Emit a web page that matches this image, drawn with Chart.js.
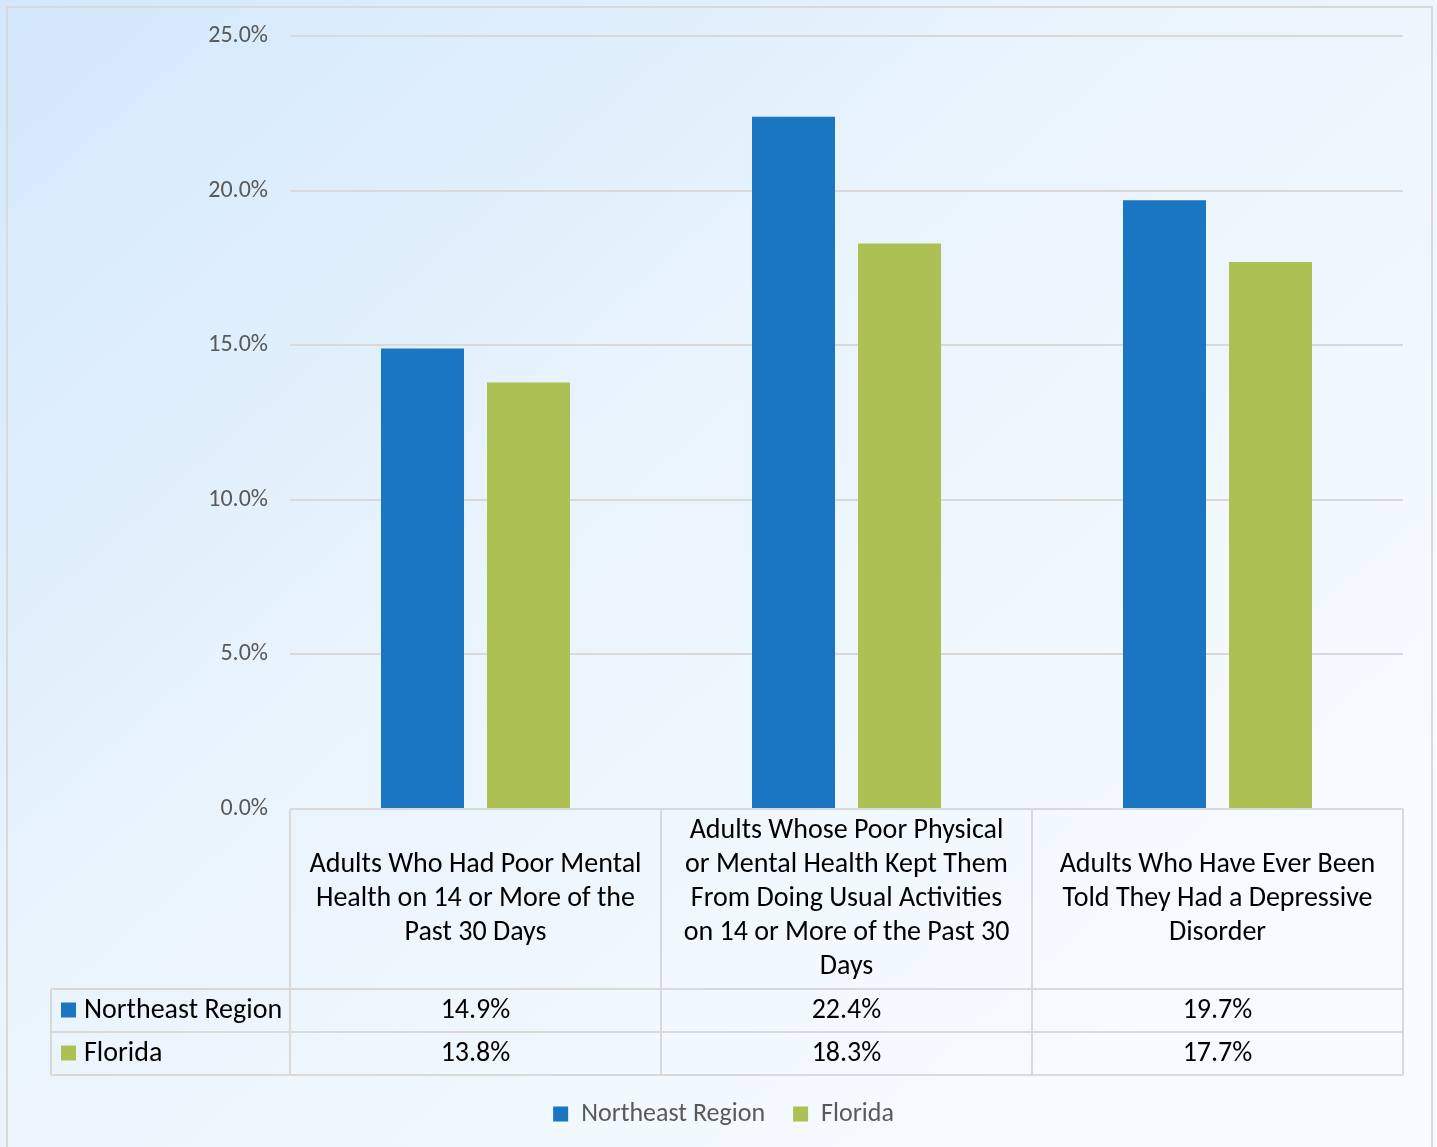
<!DOCTYPE html>
<html>
<head>
<meta charset="utf-8">
<script src="https://cdn.jsdelivr.net/npm/chart.js@4"></script>
<style>
    body { margin: 0; background: #ffffff; }
    #wrap { width: 1437px; height: 1147px; position: relative; }
</style>
</head>
<body>
<div id="wrap"><canvas id="grafico"></canvas></div>
<script>
// Datos del gráfico
const categorias = [
    ['Adults Who Had Poor Mental', 'Health on 14 or More of the', 'Past 30 Days'],
    ['Adults Whose Poor Physical', 'or Mental Health Kept Them', 'From Doing Usual Activities', 'on 14 or More of the Past 30', 'Days'],
    ['Adults Who Have Ever Been', 'Told They Had a Depressive', 'Disorder']
];
const serieNombres = ['Northeast Region', 'Florida'];
const northeast = [14.9, 22.4, 19.7];
const florida = [13.8, 18.3, 17.7];
const yTicks = [0, 5, 10, 15, 20, 25];

const COLORES = ['#1a76c2', '#adc054'];
const FUENTE = 'Carlito, Lato, sans-serif';
const LINEA = '#d9d9d9';

// Fondo con degradado y marco
const fondoPlugin = {
    id: 'fondo',
    beforeDraw(chart) {
        const ctx = chart.ctx;
        const w = chart.width, h = chart.height;
        const grad = ctx.createLinearGradient(0, 0, w * 0.7, h);
        grad.addColorStop(0, '#d3e8fb');
        grad.addColorStop(0.5, '#eaf4fd');
        grad.addColorStop(1, '#f6fbff');
        ctx.save();
        ctx.fillStyle = grad;
        ctx.fillRect(0, 0, w, h);
        ctx.strokeStyle = LINEA;
        ctx.lineWidth = 2;
        ctx.strokeRect(7, 7, 1425, h + 10);
        ctx.restore();
    }
};

// Centrar la leyenda sobre todo el marco, no solo sobre el área
const leyendaPlugin = {
    id: 'leyendaCentro',
    afterLayout(chart) {
        chart.legend.left += 22;
        chart.legend.right += 22;
    }
};

// Tabla de datos debajo del eje X
const tablaPlugin = {
    id: 'tabla',
    afterDraw(chart) {
        const ctx = chart.ctx;
        const xs = chart.scales.x;
        const area = chart.chartArea;
        const top = area.bottom;
        const headerH = 180;
        const rowH = 43;
        const left = 51;
        const series = [northeast, florida];
        const anchoCat = (area.right - area.left) / categorias.length;
        const bordes = [area.left];
        for (let i = 0; i < categorias.length; i++) bordes.push(area.left + anchoCat * (i + 1));
        const bottom = top + headerH + rowH * series.length;

        ctx.save();
        ctx.strokeStyle = LINEA;
        ctx.lineWidth = 2;
        ctx.beginPath();
        // líneas horizontales
        ctx.moveTo(area.left, top); ctx.lineTo(area.right, top);
        for (let r = 0; r <= series.length; r++) {
            const y = top + headerH + rowH * r;
            ctx.moveTo(left, y); ctx.lineTo(area.right, y);
        }
        // líneas verticales
        bordes.forEach(x => { ctx.moveTo(x, top); ctx.lineTo(x, bottom); });
        ctx.moveTo(left, top + headerH); ctx.lineTo(left, bottom);
        ctx.stroke();

        // encabezados de categoría
        ctx.fillStyle = '#000000';
        ctx.font = '28px ' + FUENTE;
        ctx.textAlign = 'center';
        ctx.textBaseline = 'middle';
        const lh = 34;
        categorias.forEach((lineas, i) => {
            const cx = xs.getPixelForValue(i);
            const y0 = top + headerH / 2 - (lineas.length - 1) * lh / 2;
            lineas.forEach((t, j) => ctx.fillText(t, cx, y0 + j * lh));
        });

        // filas de valores
        series.forEach((vals, r) => {
            const cy = top + headerH + rowH * r + rowH / 2;
            ctx.fillStyle = COLORES[r];
            ctx.fillRect(61, cy - 8, 15, 15);
            ctx.fillStyle = '#000000';
            ctx.textAlign = 'left';
            ctx.fillText(serieNombres[r], 84, cy);
            ctx.textAlign = 'center';
            vals.forEach((v, i) => ctx.fillText(v.toFixed(1) + '%', xs.getPixelForValue(i), cy));
        });
        ctx.restore();
    }
};

const ctx = document.getElementById('grafico').getContext('2d');
new Chart(ctx, {
    type: 'bar',
    data: {
        labels: categorias.map(c => c.join(' ')),
        datasets: [{
            label: serieNombres[0],
            data: northeast,
            backgroundColor: COLORES[0]
        }, {
            label: serieNombres[1],
            data: florida,
            backgroundColor: COLORES[1]
        }]
    },
    options: {
        responsive: true,
        maintainAspectRatio: false,
        animation: false,
        devicePixelRatio: 1,
        categoryPercentage: 0.5714,
        barPercentage: 0.783,
        layout: {
            padding: { top: 27, right: 34, bottom: 10, left: 0 }
        },
        scales: {
            x: {
                grid: { display: false },
                border: { display: false },
                ticks: { display: false },
                afterFit(scale) { scale.height = 264; }
            },
            y: {
                min: 0,
                max: 25,
                afterBuildTicks(scale) { scale.ticks = yTicks.map(v => ({ value: v })); },
                afterFit(scale) { scale.width = 290; },
                grid: { color: LINEA, lineWidth: 2, drawTicks: false },
                border: { display: false },
                ticks: {
                    padding: 22,
                    color: '#595959',
                    font: { family: FUENTE, size: 24 },
                    callback: v => v.toFixed(1) + '%'
                }
            }
        },
        plugins: {
            legend: {
                position: 'bottom',
                labels: {
                    boxWidth: 15,
                    boxHeight: 15,
                    padding: 28,
                    color: '#595959',
                    font: { family: FUENTE, size: 26 }
                }
            },
            tooltip: { enabled: false }
        }
    },
    plugins: [fondoPlugin, leyendaPlugin, tablaPlugin]
});
</script>
</body>
</html>
